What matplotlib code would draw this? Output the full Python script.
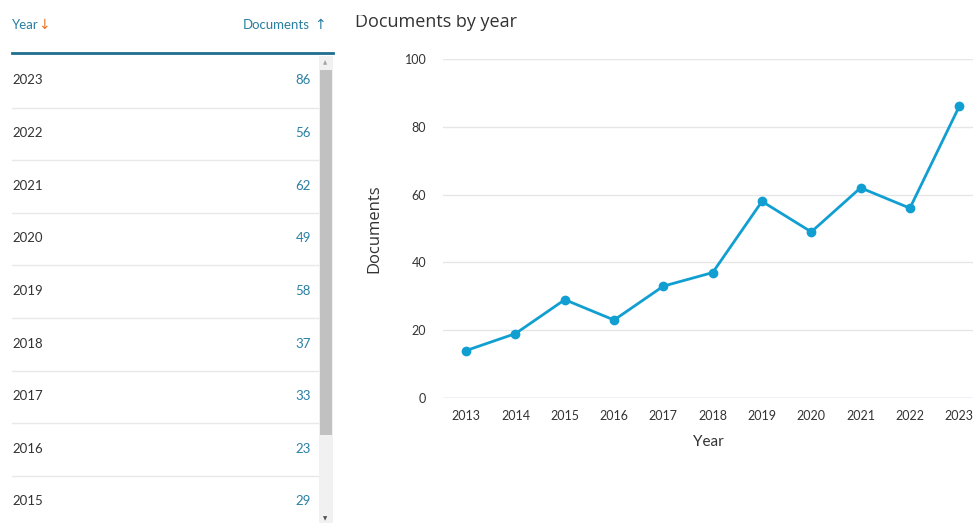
import matplotlib
matplotlib.use('Agg')
import matplotlib.pyplot as plt
from matplotlib.patches import Rectangle

# data
years = [2013, 2014, 2015, 2016, 2017, 2018, 2019, 2020, 2021, 2022, 2023]
docs = [14, 19, 29, 23, 33, 37, 58, 49, 62, 56, 86]
table_years = [2023, 2022, 2021, 2020, 2019, 2018, 2017, 2016, 2015]
table_docs = [86, 56, 62, 49, 58, 37, 33, 23, 29]
yticks = [0, 20, 40, 60, 80, 100]

line_color = '#119fd1'
teal = '#2a7fa3'
orange = '#e8762c'
txt = '#333333'

W, H = 973, 523
fig = plt.figure(figsize=(W / 100, H / 100), dpi=100)

# ---- left table panel, pixel coordinates ----
tab = fig.add_axes([0, 0, 1, 1])
tab.set_xlim(0, W)
tab.set_ylim(H, 0)
tab.axis('off')

tab.text(12, 25, 'Year', color=teal, fontsize=9.5, family='Lato', va='center')
tab.text(38, 25, '↓', color=orange, fontsize=10, family='DejaVu Sans', va='center')
tab.text(310, 25, 'Documents', color=teal, fontsize=9.5, family='Lato', va='center', ha='right')
tab.text(326, 25, '↑', color=teal, fontsize=10, family='DejaVu Sans', va='center', ha='right')
tab.plot([12, 333], [53, 53], color='#1f6f8f', lw=2)

row_h = 52.6
for i, (y, d) in enumerate(zip(table_years, table_docs)):
    yc = 80.5 + i * row_h
    tab.text(12, yc, str(y), color=txt, fontsize=9.5, family='Lato', va='center')
    tab.text(311, yc, str(d), color=teal, fontsize=9.5, family='Lato', va='center', ha='right')
    if i < len(table_years) - 1:
        tab.plot([12, 318], [yc + 27, yc + 27], color='#e8e8e8', lw=1)

# scrollbar
tab.add_patch(Rectangle((319, 56), 14, H - 56, color='#f1f1f1', lw=0))
tab.add_patch(Rectangle((320, 70), 12, 365, color='#c1c1c1', lw=0))
tab.text(325.5, 63, '▲', fontsize=4, color='#a3a3a3', ha='center', va='center')
tab.text(325.5, 519, '▼', fontsize=4, color='#505050', ha='center', va='center')

# title, top of it hidden under the page header
tab.text(355, 27, 'Documents by year', fontsize=13, family='Open Sans', color='#333333', va='baseline')
tab.add_patch(Rectangle((340, 0), 300, 15, color='white', lw=0, zorder=5))

# ---- line chart ----
ax = fig.add_axes([443 / W, (H - 398) / H, (W - 443) / W, (398 - 59) / H])
ax.plot(years, docs, color=line_color, lw=2, marker='o', markersize=6, zorder=3)
ax.set_xlim(2012.53, 2023.28)
ax.set_ylim(0, 100)
ax.set_xticks(years)
ax.set_yticks(yticks)
ax.grid(axis='y', color='#e6e6e6', lw=1)
ax.set_axisbelow(True)
for s in ax.spines.values():
    s.set_visible(False)
ax.axhline(0, color='#ccd6eb', lw=1, zorder=1)
ax.tick_params(length=0, labelsize=9, labelcolor='#333333')
ax.tick_params(axis='y', pad=12)
ax.tick_params(axis='x', pad=9)
for lab in ax.get_xticklabels() + ax.get_yticklabels():
    lab.set_family('Lato')
ax.set_xlabel('Year', fontsize=11, family='Lato', color='#333333', labelpad=9)
ax.set_ylabel('Documents', fontsize=12, family='Open Sans', color='#333333', labelpad=16)

fig.savefig('out.png', dpi=100)
